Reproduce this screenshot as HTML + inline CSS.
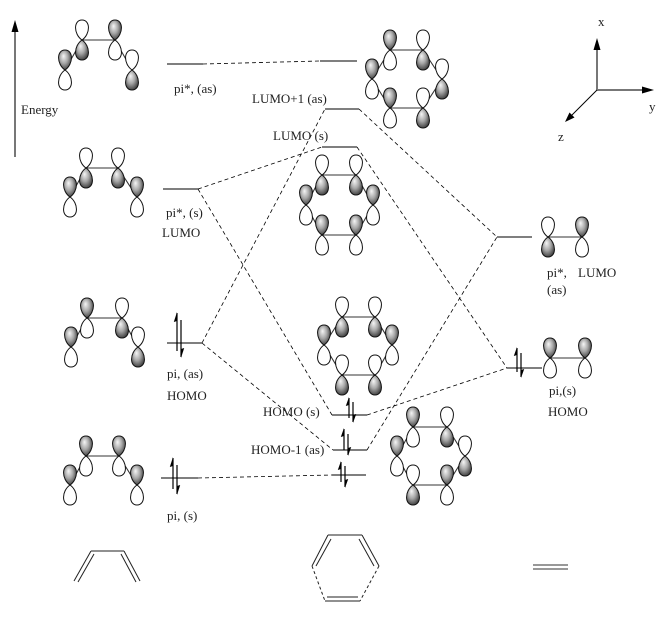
<!DOCTYPE html>
<html>
<head>
<meta charset="utf-8">
<style>
html,body{margin:0;padding:0;background:#fff;}
svg{display:block;}
text{font-family:"Liberation Serif",serif;font-size:13px;fill:#222;}
</style>
</head>
<body>
<svg width="666" height="644" viewBox="0 0 666 644" xmlns="http://www.w3.org/2000/svg">
<defs>
<radialGradient id="g" cx="0.45" cy="0.42" r="0.62" fx="0.38" fy="0.3">
<stop offset="0" stop-color="#f6f6f6"/>
<stop offset="0.5" stop-color="#a8a8a8"/>
<stop offset="1" stop-color="#383838"/>
</radialGradient>
<path id="uW" d="M0,0 C-8.6,-6 -8.6,-20 0,-20 C8.6,-20 8.6,-6 0,0 Z" fill="#fff" stroke="#111" stroke-width="1"/>
<path id="uS" d="M0,0 C-8.6,-6 -8.6,-20 0,-20 C8.6,-20 8.6,-6 0,0 Z" fill="url(#g)" stroke="#111" stroke-width="1"/>
<path id="dW" d="M0,0 C-8.6,6 -8.6,20 0,20 C8.6,20 8.6,6 0,0 Z" fill="#fff" stroke="#111" stroke-width="1"/>
<path id="dS" d="M0,0 C-8.6,6 -8.6,20 0,20 C8.6,20 8.6,6 0,0 Z" fill="url(#g)" stroke="#111" stroke-width="1"/>
</defs>

<!-- Energy arrow -->
<line x1="15" y1="157" x2="15" y2="30" stroke="#777" stroke-width="2"/>
<polygon points="15,20 11.5,32 18.5,32" fill="#000"/>
<text x="21" y="114">Energy</text>

<!-- Axes -->
<line x1="597" y1="90" x2="597" y2="48" stroke="#777" stroke-width="2"/>
<polygon points="597,38 593.5,50 600.5,50" fill="#000"/>
<line x1="597" y1="90" x2="644" y2="90" stroke="#777" stroke-width="2"/>
<polygon points="654,90 642,86.5 642,93.5" fill="#000"/>
<line x1="597" y1="90" x2="570" y2="117" stroke="#000" stroke-width="1"/>
<polygon points="565,122 574.5,117.5 569.5,112.5" fill="#000"/>
<text x="598" y="26">x</text>
<text x="649" y="111">y</text>
<text x="558" y="141">z</text>

<!-- Dashed correlation lines -->
<g stroke="#000" stroke-width="0.8" stroke-dasharray="4 3" fill="none">
<line x1="203" y1="64" x2="320" y2="61"/>
<line x1="198" y1="189" x2="322" y2="147"/>
<line x1="198" y1="189" x2="332" y2="415"/>
<line x1="202" y1="343" x2="325" y2="109"/>
<line x1="202" y1="343" x2="333" y2="450"/>
<line x1="198" y1="478" x2="332" y2="475"/>
<line x1="359" y1="109" x2="497" y2="237"/>
<line x1="367" y1="450" x2="497" y2="237"/>
<line x1="357" y1="147" x2="507" y2="368"/>
<line x1="367" y1="415" x2="507" y2="368"/>
</g>

<!-- Energy levels -->
<g stroke="#333" stroke-width="1.2">
<line x1="167" y1="64" x2="203" y2="64"/>
<line x1="163" y1="189" x2="198" y2="189"/>
<line x1="167" y1="343" x2="202" y2="343"/>
<line x1="161" y1="478" x2="198" y2="478"/>
<line x1="320" y1="61" x2="357" y2="61"/>
<line x1="325" y1="109" x2="359" y2="109"/>
<line x1="322" y1="147" x2="357" y2="147"/>
<line x1="332" y1="415" x2="367" y2="415"/>
<line x1="333" y1="450" x2="367" y2="450"/>
<line x1="332" y1="475" x2="366" y2="475"/>
<line x1="497" y1="237" x2="532" y2="237"/>
<line x1="507" y1="368" x2="542" y2="368"/>
</g>

<!-- Electron arrows -->
<g stroke="#000" stroke-width="1.2">
<line x1="177" y1="313" x2="177" y2="351"/>
<line x1="181" y1="320" x2="181" y2="357"/>
<line x1="173" y1="458" x2="173" y2="489"/>
<line x1="177" y1="465" x2="177" y2="494"/>
<line x1="349" y1="398" x2="349" y2="418"/>
<line x1="353" y1="402" x2="353" y2="422"/>
<line x1="344" y1="429" x2="344" y2="450"/>
<line x1="348" y1="434" x2="348" y2="455"/>
<line x1="341" y1="462" x2="341" y2="482"/>
<line x1="345" y1="466" x2="345" y2="487"/>
<line x1="517" y1="348" x2="517" y2="372"/>
<line x1="521" y1="353" x2="521" y2="377"/>
</g>
<g fill="#000">
<polygon points="177,312 173.8,322 177,321"/>
<polygon points="181,358 184.2,348 181,349"/>
<polygon points="173,457 169.8,467 173,466"/>
<polygon points="177,495 180.2,485 177,486"/>
<polygon points="349,397 345.8,406 349,405"/>
<polygon points="353,423 356.2,414 353,415"/>
<polygon points="344,428 340.8,437 344,436"/>
<polygon points="348,456 351.2,447 348,448"/>
<polygon points="341,461 337.8,470 341,469"/>
<polygon points="345,488 348.2,479 345,480"/>
<polygon points="517,347 513.8,356 517,355"/>
<polygon points="521,378 524.2,369 521,370"/>
</g>

<!-- Bonds of MO pictures -->
<g stroke="#333" stroke-width="1.1" fill="none">
<polyline points="65,70 82,40 115,40 132,70"/>
<polyline points="70,197 86,168 118,168 137,197"/>
<polyline points="71,347 87,318 122,318 138,347"/>
<polyline points="70,485 86,456 119,456 137,485"/>
<polygon points="390,50 423,50 442,79 423,108 390,108 372,79"/>
<polygon points="322,175 356,175 373,205 356,235 322,235 306,205"/>
<polygon points="342,317 375,317 392,345 375,375 342,375 324,345"/>
<polygon points="413,427 447,427 465,456 447,485 413,485 397,456"/>
<line x1="548" y1="237" x2="582" y2="237"/>
<line x1="550" y1="358" x2="585" y2="358"/>
</g>

<!-- Lobes -->
<use href="#uS" x="65" y="70"/><use href="#dW" x="65" y="70"/>
<use href="#uW" x="82" y="40"/><use href="#dS" x="82" y="40"/>
<use href="#uS" x="115" y="40"/><use href="#dW" x="115" y="40"/>
<use href="#uW" x="132" y="70"/><use href="#dS" x="132" y="70"/>

<use href="#uS" x="70" y="197"/><use href="#dW" x="70" y="197"/>
<use href="#uW" x="86" y="168"/><use href="#dS" x="86" y="168"/>
<use href="#uW" x="118" y="168"/><use href="#dS" x="118" y="168"/>
<use href="#uS" x="137" y="197"/><use href="#dW" x="137" y="197"/>

<use href="#uS" x="71" y="347"/><use href="#dW" x="71" y="347"/>
<use href="#uS" x="87" y="318"/><use href="#dW" x="87" y="318"/>
<use href="#uW" x="122" y="318"/><use href="#dS" x="122" y="318"/>
<use href="#uW" x="138" y="347"/><use href="#dS" x="138" y="347"/>

<use href="#uS" x="70" y="485"/><use href="#dW" x="70" y="485"/>
<use href="#uS" x="86" y="456"/><use href="#dW" x="86" y="456"/>
<use href="#uS" x="119" y="456"/><use href="#dW" x="119" y="456"/>
<use href="#uS" x="137" y="485"/><use href="#dW" x="137" y="485"/>

<use href="#uS" x="390" y="50"/><use href="#dW" x="390" y="50"/>
<use href="#uW" x="423" y="50"/><use href="#dS" x="423" y="50"/>
<use href="#uS" x="372" y="79"/><use href="#dW" x="372" y="79"/>
<use href="#uW" x="442" y="79"/><use href="#dS" x="442" y="79"/>
<use href="#uS" x="390" y="108"/><use href="#dW" x="390" y="108"/>
<use href="#uW" x="423" y="108"/><use href="#dS" x="423" y="108"/>

<use href="#uW" x="322" y="175"/><use href="#dS" x="322" y="175"/>
<use href="#uW" x="356" y="175"/><use href="#dS" x="356" y="175"/>
<use href="#uS" x="306" y="205"/><use href="#dW" x="306" y="205"/>
<use href="#uS" x="373" y="205"/><use href="#dW" x="373" y="205"/>
<use href="#uS" x="322" y="235"/><use href="#dW" x="322" y="235"/>
<use href="#uS" x="356" y="235"/><use href="#dW" x="356" y="235"/>

<use href="#uW" x="342" y="317"/><use href="#dS" x="342" y="317"/>
<use href="#uW" x="375" y="317"/><use href="#dS" x="375" y="317"/>
<use href="#uS" x="324" y="345"/><use href="#dW" x="324" y="345"/>
<use href="#uS" x="392" y="345"/><use href="#dW" x="392" y="345"/>
<use href="#uW" x="342" y="375"/><use href="#dS" x="342" y="375"/>
<use href="#uW" x="375" y="375"/><use href="#dS" x="375" y="375"/>

<use href="#uS" x="413" y="427"/><use href="#dW" x="413" y="427"/>
<use href="#uW" x="447" y="427"/><use href="#dS" x="447" y="427"/>
<use href="#uS" x="397" y="456"/><use href="#dW" x="397" y="456"/>
<use href="#uW" x="465" y="456"/><use href="#dS" x="465" y="456"/>
<use href="#uW" x="413" y="485"/><use href="#dS" x="413" y="485"/>
<use href="#uS" x="447" y="485"/><use href="#dW" x="447" y="485"/>

<use href="#uW" x="548" y="237"/><use href="#dS" x="548" y="237"/>
<use href="#uS" x="582" y="237"/><use href="#dW" x="582" y="237"/>
<use href="#uS" x="550" y="358"/><use href="#dW" x="550" y="358"/>
<use href="#uS" x="585" y="358"/><use href="#dW" x="585" y="358"/>

<!-- Labels -->
<text x="174" y="93">pi*, (as)</text>
<text x="166" y="217">pi*, (s)</text>
<text x="162" y="237">LUMO</text>
<text x="167" y="378">pi, (as)</text>
<text x="167" y="400">HOMO</text>
<text x="167" y="520">pi, (s)</text>
<text x="252" y="103">LUMO+1 (as)</text>
<text x="273" y="140">LUMO (s)</text>
<text x="263" y="416">HOMO (s)</text>
<text x="251" y="454">HOMO-1 (as)</text>
<text x="547" y="277">pi*,</text>
<text x="578" y="277">LUMO</text>
<text x="547" y="294">(as)</text>
<text x="549" y="395">pi,(s)</text>
<text x="548" y="416">HOMO</text>

<!-- Bottom skeletal structures -->
<g stroke="#222" stroke-width="1" fill="none">
<line x1="74" y1="581" x2="91" y2="551"/>
<line x1="78" y1="582" x2="94" y2="554"/>
<line x1="91" y1="551" x2="124" y2="551"/>
<line x1="124" y1="551" x2="140" y2="581"/>
<line x1="121" y1="554" x2="136" y2="582"/>

<line x1="328" y1="535" x2="362" y2="535"/>
<line x1="312" y1="566" x2="328" y2="535"/>
<line x1="316" y1="566" x2="331" y2="539"/>
<line x1="362" y1="535" x2="379" y2="566"/>
<line x1="359" y1="539" x2="374" y2="566"/>
<line x1="325" y1="601" x2="360" y2="601"/>
<line x1="327" y1="597" x2="358" y2="597"/>
<line x1="379" y1="566" x2="360" y2="601" stroke-dasharray="3 2.5"/>
<line x1="312" y1="566" x2="325" y2="601" stroke-dasharray="3 2.5"/>
</g>
<line x1="533" y1="565" x2="568" y2="565" stroke="#777" stroke-width="1.6"/>
<line x1="533" y1="569" x2="568" y2="569" stroke="#777" stroke-width="1.6"/>
</svg>
</body>
</html>
